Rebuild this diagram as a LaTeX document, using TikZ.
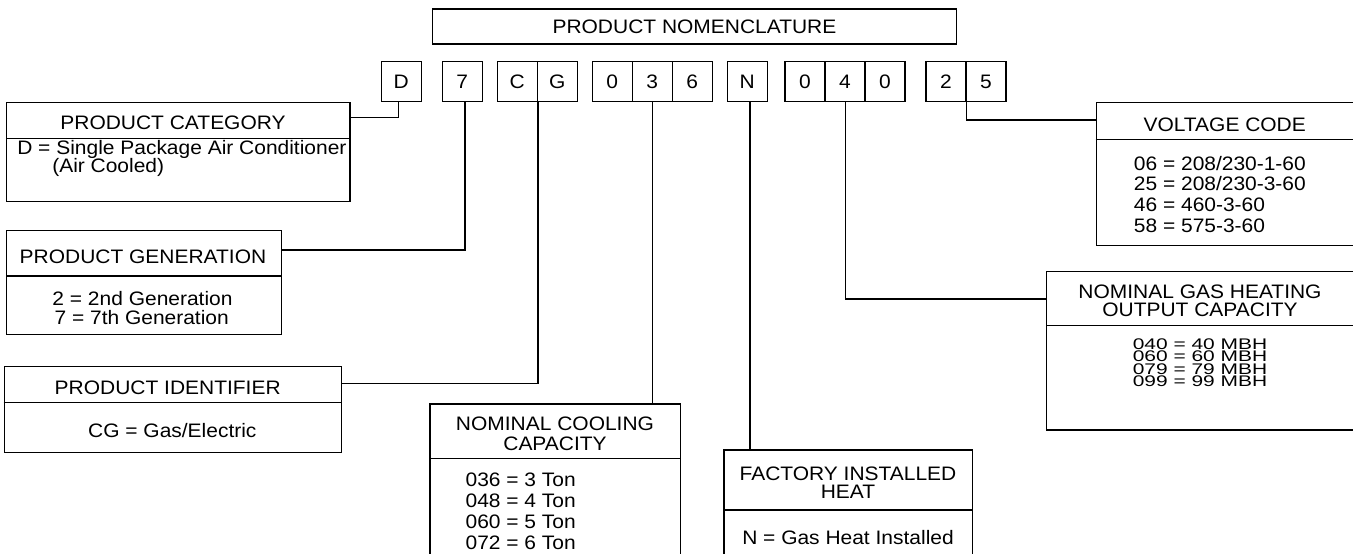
\documentclass[tikz,border=0pt]{standalone}
\usepackage{fontspec}
\setmainfont{Liberation Sans}[FakeStretch=1.075]
\newfontfamily\gasfont{Liberation Sans}[FakeStretch=1.36]
\begin{document}
\begin{tikzpicture}[x=1pt,y=-1pt,line width=1.2pt,
  every node/.style={font=\fontsize{19.5}{19.5}\selectfont,inner sep=0pt},
  box/.style={draw,rectangle,anchor=north west,inner sep=0pt},
  cell/.style={draw,rectangle,anchor=north west,minimum width=40pt,minimum height=40pt,text height=14pt,text depth=0pt},
  lbl/.style={anchor=base},
  lbll/.style={anchor=base west},
  gaslbl/.style={anchor=base,font=\gasfont\fontsize{15.4}{15.4}\selectfont}]
\useasboundingbox (0,0) rectangle (1353,554);
\clip (0,0) rectangle (1353,554);

% title
\node[box,minimum width=524.3pt,minimum height=35pt,text height=14pt,text depth=0pt] (title) at (431.7,8.3) {PRODUCT NOMENCLATURE};

% code cells
\node[cell] (cD) at (380.7,60.7) {D};
\node[cell] (c7) at (441.7,60.7) {7};
\node[cell] (cC) at (496.7,60.7) {C};
\node[cell] (cG) at (536.7,60.7) {G};
\node[cell] (c0a) at (591.7,60.7) {0};
\node[cell] (c3) at (631.7,60.7) {3};
\node[cell] (c6) at (671.7,60.7) {6};
\node[cell] (cN) at (726.7,60.7) {N};
\node[cell] (c0b) at (784.3,60.7) {0};
\node[cell] (c4) at (824.3,60.7) {4};
\node[cell] (c0c) at (864.3,60.7) {0};
\node[cell] (c2) at (925.3,60.7) {2};
\node[cell] (c5) at (965.3,60.7) {5};

% boxes
\node[box,minimum width=343.3pt,minimum height=99pt] (cat) at (6,101.7) {};
\node[box,minimum width=274.7pt,minimum height=104pt] (gen) at (6,230) {};
\node[box,minimum width=337.2pt,minimum height=86pt] (ident) at (3.5,366) {};
\node[box,minimum width=250.7pt,minimum height=200pt] (cool) at (429.3,403.3) {};
\node[box,minimum width=248.4pt,minimum height=150pt] (fact) at (723.3,449.3) {};
\node[box,minimum width=300pt,minimum height=143.3pt] (volt) at (1095.7,101.7) {};
\node[box,minimum width=350pt,minimum height=158.6pt] (gas) at (1046,270.7) {};

% dividers
\draw ([yshift=-36.6pt]cat.north west) -- ([yshift=-36.6pt]cat.north east);
\draw ([yshift=-46pt]gen.north west) -- ([yshift=-46pt]gen.north east);
\draw ([yshift=-36.7pt]ident.north west) -- ([yshift=-36.7pt]ident.north east);
\draw ([yshift=-55pt]cool.north west) -- ([yshift=-55pt]cool.north east);
\draw ([yshift=-60.7pt]fact.north west) -- ([yshift=-60.7pt]fact.north east);
\draw ([yshift=-37.6pt]volt.north west) -- ([yshift=-37.6pt]volt.north east);
\draw ([yshift=-54.8pt]gas.north west) -- ([yshift=-54.8pt]gas.north east);

% texts
\node[lbl] (catH) at (173,129.5) {PRODUCT CATEGORY};
\node[lbll] (catA) at (16.7,154.5) {D = Single Package Air Conditioner};
\node[lbll] (catB) at (51.7,172.5) {(Air Cooled)};

\node[lbl] (genH) at (143,263) {PRODUCT GENERATION};
\node[lbl] (genA) at (142.5,305) {2 = 2nd Generation};
\node[lbl] (genB) at (141.7,324) {7 = 7th Generation};

\node[lbl] (idH) at (167.7,394.5) {PRODUCT IDENTIFIER};
\node[lbl] (idA) at (172.3,437.5) {CG = Gas/Electric};

\node[lbl] (coH1) at (555,430) {NOMINAL COOLING};
\node[lbl] (coH2) at (555,450) {CAPACITY};
\node[lbll] (coA) at (465,486.7) {036 = 3 Ton};
\node[lbll] (coB) at (465,507.3) {048 = 4 Ton};
\node[lbll] (coC) at (465,528.3) {060 = 5 Ton};
\node[lbll] (coD) at (465,549) {072 = 6 Ton};

\node[lbl] (faH1) at (848,480) {FACTORY INSTALLED};
\node[lbl] (faH2) at (848,498.3) {HEAT};
\node[lbl] (faA) at (848,544) {N = Gas Heat Installed};

\node[lbl] (voH) at (1224.7,131) {VOLTAGE CODE};
\node[lbll] (voA) at (1133.3,170) {06 = 208/230-1-60};
\node[lbll] (voB) at (1133.3,190.9) {25 = 208/230-3-60};
\node[lbll] (voC) at (1133.3,211.8) {46 = 460-3-60};
\node[lbll] (voD) at (1133.3,232.7) {58 = 575-3-60};

\node[lbl] (gaH1) at (1200,298.3) {NOMINAL GAS HEATING};
\node[lbl] (gaH2) at (1200,316.7) {OUTPUT CAPACITY};
\node[gaslbl] (gaA) at (1200,349.3) {040 = 40 MBH};
\node[gaslbl] (gaB) at (1200,361.7) {060 = 60 MBH};
\node[gaslbl] (gaC) at (1200,374) {079 = 79 MBH};
\node[gaslbl] (gaD) at (1200,386.7) {099 = 99 MBH};

% connectors
\draw ([xshift=-2.9pt]cD.south) |- ([yshift=-15.6pt]cat.north east);
\draw ([xshift=2.6pt]c7.south) |- ([yshift=-20pt]gen.north east);
\draw (cC.south east) |- ([yshift=-17.3pt]ident.north east);
\draw (c3.south) -- (c3.south |- cool.north);
\coordinate (nN) at ([xshift=2.6pt]cN.south);
\draw (nN) -- (nN |- fact.north);
\draw ([xshift=0.7pt]c4.south) |- ([yshift=-28.3pt]gas.north west);
\draw (c2.south east) |- ([yshift=-18.3pt]volt.north west);
\end{tikzpicture}
\end{document}
